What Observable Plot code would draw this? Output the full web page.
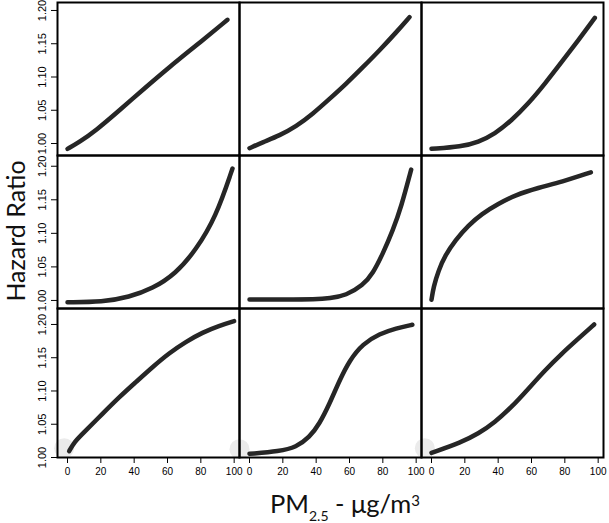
<!DOCTYPE html>
<html>
<head>
<meta charset="utf-8">
<script src="https://cdn.jsdelivr.net/npm/d3@7"></script>
<script src="https://cdn.jsdelivr.net/npm/@observablehq/plot@0.6"></script>
<style>
  html, body { margin: 0; padding: 0; background: #fff; }
  #wrap { position: relative; width: 609px; height: 523px; overflow: hidden; }
  .row { position: absolute; left: 0; }
  .row svg { display: block; }
  #ylab {
    position: absolute; left: 0; top: 0; width: 200px; height: 30px;
    line-height: 30px; text-align: center; white-space: nowrap;
    font-family: Lato, "Open Sans", sans-serif; font-size: 25px; color: #111;
    transform-origin: 0 0; transform: translate(0px, 331px) rotate(-90deg);
  }
  #xlab {
    position: absolute; left: 225px; top: 486px; width: 240px; line-height: 35px;
    text-align: center; white-space: nowrap;
    font-family: Lato, "Open Sans", sans-serif; font-size: 25.5px; color: #111;
  }
  #xlab sub { font-size: 14px; line-height: 0; vertical-align: -8px; }
  #xlab sup { font-size: 15px; line-height: 0; vertical-align: 7px; }
</style>
</head>
<body>
<div id="wrap">
  <div id="row0" class="row" style="top:0px"></div>
  <div id="row1" class="row" style="top:153px"></div>
  <div id="row2" class="row" style="top:306px"></div>
  <div id="ylab">Hazard Ratio</div>
  <div id="xlab">PM<sub>2.5</sub> - μg/m<sup>3</sup></div>
</div>
<script>
const pm1 = [0, 7, 17, 31, 47, 61, 77, 96];
const hr1 = [0.992, 1.002, 1.0195, 1.0496, 1.0847, 1.1147, 1.147, 1.186];

const pm2 = [0, 8, 18, 28, 38, 48, 58, 68, 78, 88, 96];
const hr2 = [0.993, 1.002, 1.012, 1.0256, 1.0446, 1.067, 1.0897, 1.1147, 1.140, 1.167, 1.190];

const pm3 = [0, 18, 28, 38, 48, 58, 68, 78, 88, 98];
const hr3 = [0.992, 0.9955, 1.002, 1.0145, 1.0346, 1.0597, 1.0897, 1.1222, 1.155, 1.189];

const pm4 = [0, 21, 37, 51, 65, 77, 89, 99];
const hr4 = [0.9975, 0.9975, 1.005, 1.0175, 1.04, 1.075, 1.124, 1.1966];

const pm5 = [0, 20, 40, 48, 58, 68, 74, 80, 86, 91, 97];
const hr5 = [1.0015, 1.0015, 1.0015, 1.003, 1.0075, 1.0224, 1.040, 1.0697, 1.1045, 1.139, 1.195];

const pm6 = [0, 1.2, 4.2, 8.2, 14.2, 22.2, 30.1, 40.1, 50.1, 64.1, 78, 95.6];
const hr6 = [1.001, 1.020, 1.0448, 1.067, 1.0896, 1.112, 1.129, 1.144, 1.157, 1.168, 1.1766, 1.191];

const pm7 = [1, 4, 9, 21, 31, 41, 51, 61, 71, 81, 91, 100];
const hr7 = [1.0095, 1.023, 1.0356, 1.0657, 1.0907, 1.1133, 1.136, 1.157, 1.174, 1.188, 1.198, 1.205];

const pm8 = [0, 18, 28, 36, 42, 48, 54, 60, 68, 78, 88, 97.7];
const hr8 = [1.0055, 1.0095, 1.0155, 1.0305, 1.0506, 1.0807, 1.1158, 1.146, 1.171, 1.186, 1.1944, 1.1995];

const pm9 = [0, 18, 28, 38, 48, 58, 68, 78, 88, 97.6];
const hr9 = [1.007, 1.023, 1.0356, 1.053, 1.0756, 1.103, 1.131, 1.156, 1.1785, 1.200];

// light grey marks near the origin of the bottom-row panels
const blobPm = [-2, -6, -4];
const blobHr = [1.014, 1.0125, 1.014];

const xTicks = [0, 20, 40, 60, 80, 100];
const yTicks = [1.00, 1.05, 1.10, 1.15, 1.20];
// y extent of each row of panels
const rowYMin = [0.982, 0.988, 1.000];
const rowYMax = [1.212, 1.216, 1.224];

const pmSeries = [pm1, pm2, pm3, pm4, pm5, pm6, pm7, pm8, pm9];
const hrSeries = [hr1, hr2, hr3, hr4, hr5, hr6, hr7, hr8, hr9];

const curves = pmSeries.flatMap((xs, i) =>
  xs.map((x, j) => ({panel: i, col: i % 3, row: Math.floor(i / 3), pm: x, hr: hrSeries[i][j]}))
);
const blobs = blobPm.map((x, i) => ({col: i, row: 2, pm: x, hr: blobHr[i]}));

const frameH = [153, 153, 149];

function makeRow(r) {
  const bottom = r === 2;
  const marks = [];
  if (bottom) {
    marks.push(Plot.dot(blobs, {x: "pm", y: "hr", fx: "col", r: 10, fill: "#ebebeb", stroke: "none"}));
  }
  marks.push(
    Plot.line(curves.filter(d => d.row === r), {
      x: "pm", y: "hr", fx: "col", z: "panel",
      stroke: "#262626", strokeWidth: 4.5, strokeLinecap: "round", strokeLinejoin: "round",
      curve: "basis"
    }),
    Plot.frame({stroke: "#000", strokeWidth: 2}),
    Plot.axisY({ticks: yTicks, tickFormat: ".2f", tickRotate: -90, tickSize: 6, tickPadding: 6,
                fontSize: 11, label: null, stroke: "#000", strokeWidth: 1})
  );
  if (bottom) {
    marks.push(Plot.axisX({ticks: xTicks, tickSize: 6, tickPadding: 4, fontSize: 10, label: null,
                           stroke: "#000", strokeWidth: 1}));
  }
  const marginTop = 2;
  const marginBottom = bottom ? 28 : 2;
  return Plot.plot({
    width: 609,
    height: marginTop + frameH[r] + marginBottom,
    marginTop, marginBottom,
    marginRight: 5,
    marginLeft: 56,
    style: {fontFamily: "'Liberation Sans', Arial, sans-serif", background: "transparent", overflow: "visible"},
    fx: {domain: [0, 1, 2], padding: 0, axis: null},
    x: {domain: [-6, 103.2], axis: null},
    y: {domain: [rowYMin[r], rowYMax[r]], axis: null},
    marks
  });
}

[0, 1, 2].forEach(r => document.getElementById("row" + r).appendChild(makeRow(r)));
</script>
</body>
</html>
